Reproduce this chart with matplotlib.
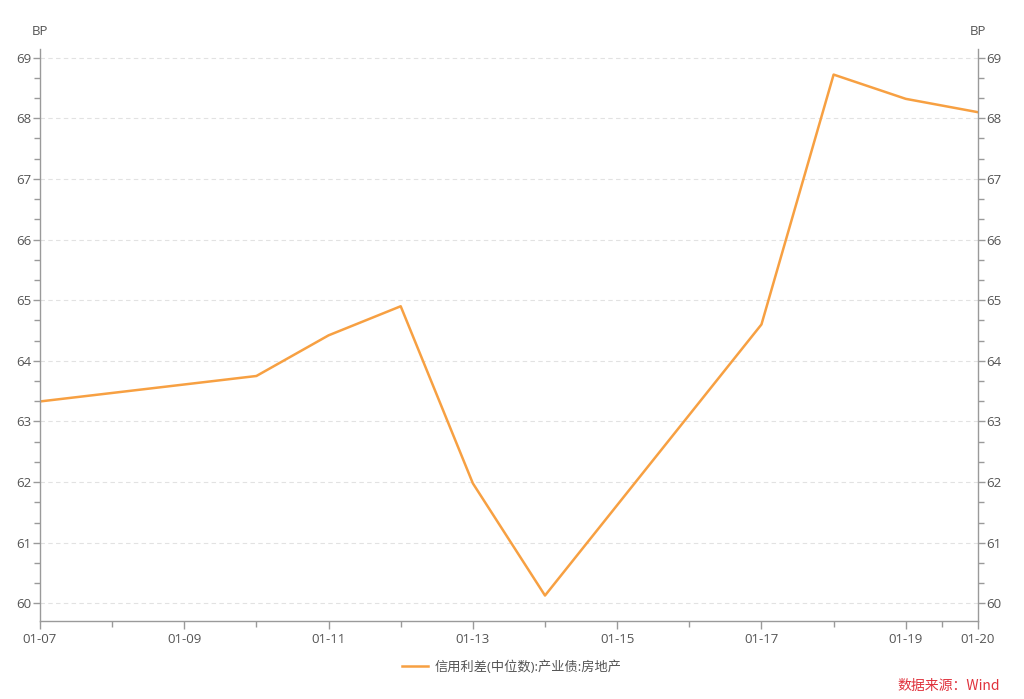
import numpy as np
import matplotlib
matplotlib.use("Agg")
import matplotlib.pyplot as plt
from matplotlib.ticker import MultipleLocator, FixedLocator

plt.rcParams['font.family'] = ['Open Sans', 'Noto Sans CJK SC', 'DejaVu Sans']

# days since 01-07
day_offsets = [0, 3, 4, 5, 6, 7, 10, 11, 12, 13]
spread = [63.33, 63.75, 64.42, 64.90, 61.98, 60.13, 64.60, 68.72, 68.32, 68.10]
major_days = [0, 2, 4, 6, 8, 10, 12, 13]
major_labels = ["01-07", "01-09", "01-11", "01-13", "01-15", "01-17", "01-19", "01-20"]
minor_days = [1, 3, 5, 7, 9, 11, 12.5]
series_name = "信用利差(中位数):产业债:房地产"

axis_color = "#9a9a9a"
text_color = "#555555"
line_color = "#f7a042"

fig = plt.figure(figsize=(10.24, 6.99), dpi=100)
ax = fig.add_axes([0.039, 0.1116, 0.916, 0.819])

ax.plot(day_offsets, spread, color=line_color, lw=1.8, label=series_name)

ax.set_xlim(0, 13)
ax.set_ylim(59.71, 69.15)

ax.xaxis.set_major_locator(FixedLocator(major_days))
ax.set_xticklabels(major_labels)
ax.xaxis.set_minor_locator(FixedLocator(minor_days))
ax.yaxis.set_major_locator(MultipleLocator(1))
ax.yaxis.set_minor_locator(MultipleLocator(1 / 3))

ax.grid(axis="y", which="major", color="#e2e2e2", ls=(0, (4, 3)), lw=0.8)

ax.spines["top"].set_visible(False)
for s in ["left", "right", "bottom"]:
    ax.spines[s].set_color(axis_color)
    ax.spines[s].set_linewidth(1.0)

ax.tick_params(axis="both", which="both", color=axis_color, labelcolor=text_color,
               labelsize=9.5, width=1.0)
ax.tick_params(axis="y", which="major", length=5, labelright=True, right=True, pad=1)
ax.tick_params(axis="y", which="minor", length=4, right=True)
ax.tick_params(axis="x", which="major", length=6, pad=3)
ax.tick_params(axis="x", which="minor", length=4)

fig.text(0.039, 0.955, "BP", color=text_color, fontsize=9.5, ha="center", va="center")
fig.text(0.955, 0.955, "BP", color=text_color, fontsize=9.5, ha="center", va="center")

fig.legend(loc="center", bbox_to_anchor=(0.5, 0.046), frameon=False, fontsize=9.5,
           labelcolor=text_color, handlelength=2.0, handletextpad=0.5)

fig.text(0.977, 0.019, "数据来源：Wind", color="#e0323c", fontsize=10,
         ha="right", va="center", family=["Noto Sans CJK SC", "DejaVu Sans"])

fig.savefig("out.png", dpi=100)
